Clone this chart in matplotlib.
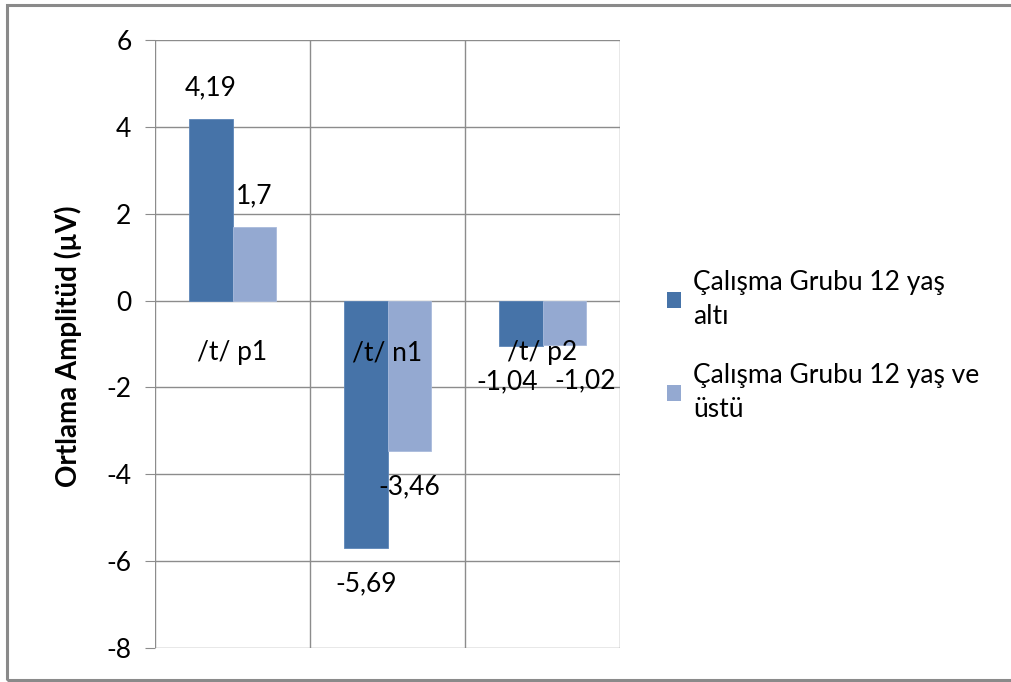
"""
    plot.py
        -- mean amplitude bar chart by age group
"""
import matplotlib.pyplot as plt
import numpy as np
from matplotlib.patches import Rectangle

categories = ["/t/ p1", "/t/ n1", "/t/ p2"]
under_12 = [4.19, -5.69, -1.04]
over_12 = [1.70, -3.46, -1.02]
series_names = ["Çalışma Grubu 12 yaş\naltı", "Çalışma Grubu 12 yaş ve\nüstü"]
yticks = [6, 4, 2, 0, -2, -4, -6, -8]


def fmt(v):
    return f"{v:g}".replace(".", ",")


def main():
    plt.rcParams["font.family"] = ["Lato", "DejaVu Sans"]
    fig = plt.figure(figsize=(10.11, 6.82), dpi=100)
    ax = fig.add_axes([155 / 1011, 1 - 648 / 682, 465 / 1011, 608 / 682])

    dark = "#4673a8"
    light = "#94a9d1"
    grid = "#8c8c8c"
    fs = 19
    width = 0.28
    x = np.arange(len(categories))

    b1 = ax.bar(x - width / 2, under_12, width, color=dark, edgecolor="#5d86b8",
                linewidth=0.6, label=series_names[0], zorder=3)
    b2 = ax.bar(x + width / 2, over_12, width, color=light, edgecolor="#a9bbdc",
                linewidth=0.6, label=series_names[1], zorder=3)

    ax.set_xlim(-0.5, len(categories) - 0.5)
    ax.set_ylim(-8, 6)
    ax.set_yticks(yticks)
    ax.set_yticklabels([str(t) for t in yticks], fontsize=fs)
    ax.set_xticks([])
    ax.tick_params(axis="y", length=7, color=grid, pad=10)

    # gridlines: horizontal at each tick, vertical between categories
    for t in yticks:
        ax.axhline(t, color=grid, linewidth=1.0, zorder=1)
    for b in np.arange(-0.5, len(categories), 1.0):
        ax.axvline(b, color=grid, linewidth=1.0, zorder=1)
    for s in ax.spines.values():
        s.set_visible(False)

    # category names sit just under the zero line
    for i, name in enumerate(categories):
        ax.annotate(name, (i, 0), xytext=(0, -52), textcoords="offset pixels",
                    ha="center", va="center", fontsize=fs, zorder=5)

    # value labels, nudged apart where they would collide
    nudge = {(0, 2): -14, (1, 2): 21}
    for k, bars in enumerate([b1, b2]):
        for i, bar in enumerate(bars):
            v = bar.get_height()
            dy = 31 if v > 0 else -36
            dx = nudge.get((k, i), 0)
            ax.annotate(fmt(v), (bar.get_x() + bar.get_width() / 2, v),
                        xytext=(dx, dy), textcoords="offset pixels",
                        ha="center", va="center", fontsize=fs, zorder=5)

    fig.text(68 / 1011, 1 - 346 / 682, "Ortlama Amplitüd (µV)", rotation=90,
             ha="center", va="center", fontsize=20, fontweight="bold")

    leg = fig.legend(handles=[b1, b2], loc="upper left",
                     bbox_to_anchor=(643 / 1011, 1 - 246 / 682),
                     frameon=False, fontsize=19, handlelength=0.55,
                     handleheight=0.55, handletextpad=0.45, labelspacing=1.3)
    for h in leg.legend_handles:
        h.set_edgecolor("none")
    for t in leg.get_texts():
        t.set_linespacing(1.45)

    fig.patches.append(Rectangle((7 / 1011, 1 - 680 / 682), 1.1, 675 / 682,
                                 transform=fig.transFigure, fill=False,
                                 edgecolor="#8a8a8a", linewidth=2.2))

    plt.savefig("out.png", dpi=100)
    plt.close("all")


if __name__ == "__main__":
    main()
